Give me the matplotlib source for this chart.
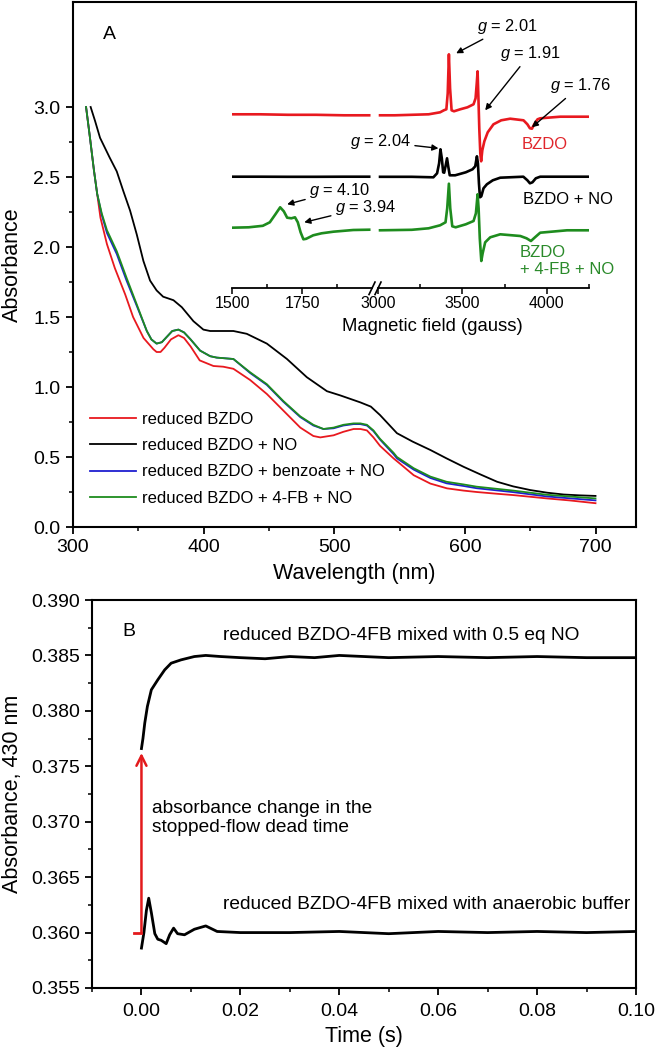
import matplotlib
matplotlib.use('Agg')
import matplotlib.pyplot as plt
import numpy as np
from matplotlib.ticker import MultipleLocator, FixedLocator

plt.rcParams['font.family'] = ['Liberation Sans', 'DejaVu Sans']
plt.rcParams['mathtext.fontset'] = 'custom'
plt.rcParams['mathtext.it'] = 'Liberation Sans:italic'
plt.rcParams['mathtext.rm'] = 'Liberation Sans'

RED = '#e8191f'
GREEN = '#1e8c1e'
BLUE = '#1f1fd0'

# ---------------- Panel A: UV-vis spectra ----------------
wl_red = [310, 313, 316, 318.5, 321, 326, 332, 340, 346, 354, 361.5, 364, 367, 370, 375,
          380.7, 385, 390, 397, 407.5, 415, 422.8, 435.6, 448.4, 461.2, 474, 484, 489.3,
          499.5, 507, 514.8, 520, 525, 530, 535, 545.4, 550.6, 560.8, 573.6, 586.3, 599,
          609, 625, 637, 663, 680, 700]
abs_red = [3.00, 2.78, 2.55, 2.38, 2.21, 2.02, 1.85, 1.66, 1.50, 1.35, 1.27, 1.25, 1.25,
           1.28, 1.34, 1.37, 1.35, 1.29, 1.19, 1.15, 1.145, 1.13, 1.05, 0.95, 0.83, 0.71,
           0.65, 0.64, 0.655, 0.68, 0.70, 0.70, 0.69, 0.64, 0.58, 0.49, 0.45, 0.37, 0.31,
           0.276, 0.26, 0.25, 0.237, 0.228, 0.204, 0.19, 0.17]

wl_black = [313.5, 316.9, 320.7, 328, 333.5, 338.5, 343.7, 348.8, 353.9, 359, 364, 369,
            376.9, 383.3, 392.2, 399.8, 405, 410, 422.8, 433, 448.4, 463.8, 479, 494.4,
            504.6, 520, 528, 535, 541, 548, 560, 573.6, 586, 599, 612, 624.7, 637, 650,
            663, 675.7, 688, 700]
abs_black = [3.00, 2.90, 2.78, 2.64, 2.54, 2.40, 2.26, 2.09, 1.90, 1.76, 1.69, 1.645,
             1.62, 1.57, 1.47, 1.41, 1.40, 1.40, 1.40, 1.38, 1.31, 1.20, 1.07, 0.97, 0.94,
             0.89, 0.86, 0.80, 0.74, 0.67, 0.61, 0.55, 0.49, 0.43, 0.375, 0.323, 0.29,
             0.264, 0.245, 0.232, 0.226, 0.222]

wl_green = [310, 313, 316, 318.5, 322, 326, 333.5, 341, 348.8, 356.5, 360, 364, 368, 372,
            376, 380.7, 385, 390, 397.3, 405, 410, 422.8, 435.6, 448.4, 461, 474, 484,
            491.7, 499.5, 507, 514.8, 520, 525, 530, 535, 545.4, 548, 560.8, 573.6, 586,
            599, 609, 637, 663, 700]
abs_green = [3.00, 2.78, 2.55, 2.38, 2.24, 2.12, 1.97, 1.78, 1.59, 1.40, 1.34, 1.31, 1.32,
             1.36, 1.40, 1.41, 1.39, 1.34, 1.26, 1.22, 1.21, 1.20, 1.105, 1.02, 0.90, 0.79,
             0.73, 0.70, 0.71, 0.73, 0.74, 0.74, 0.73, 0.69, 0.63, 0.53, 0.50, 0.42, 0.36,
             0.323, 0.304, 0.288, 0.26, 0.23, 0.204]
abs_blue = [3.00, 2.78, 2.55, 2.38, 2.23, 2.10, 1.95, 1.76, 1.58, 1.40, 1.34, 1.31, 1.32,
            1.36, 1.40, 1.41, 1.39, 1.34, 1.26, 1.22, 1.21, 1.20, 1.10, 1.015, 0.895, 0.785,
            0.725, 0.70, 0.705, 0.725, 0.735, 0.735, 0.725, 0.685, 0.625, 0.52, 0.49, 0.41,
            0.35, 0.312, 0.293, 0.277, 0.249, 0.218, 0.19]

legend_labels = ['reduced BZDO', 'reduced BZDO + NO',
                 'reduced BZDO + benzoate + NO', 'reduced BZDO + 4-FB + NO']

# ---------------- Inset: EPR spectra (arb. units) ----------------
field_left = [1500, 1600, 1700, 1800, 1900, 1990]
epr_red_left = [174, 174, 173.5, 173.5, 173, 173]
epr_black_left = [111.6, 111.6, 111.5, 111.5, 111.6, 111.6]

field_red_right = [3012, 3100, 3200, 3300, 3368, 3390, 3405, 3413, 3420, 3427, 3436, 3450,
                   3487, 3530, 3566, 3578, 3585, 3590, 3595, 3600, 3606, 3611, 3618, 3630,
                   3650, 3684, 3730, 3783, 3862, 3885, 3900, 3912, 3925, 3945, 3961, 4080,
                   4250]
epr_red_right = [173, 173, 173.5, 174, 176, 178, 179, 195, 234, 200, 178, 177, 179, 181,
                 184, 190, 205, 217, 190, 160, 135, 127, 138, 147, 156, 164, 168, 169.6,
                 168, 164, 160, 159.6, 164, 169, 170, 171.6, 171.6]

field_black_right = [3012, 3200, 3328, 3350, 3362, 3370, 3378, 3386, 3392, 3400, 3409,
                     3416, 3425, 3457, 3520, 3560, 3576, 3586, 3592, 3598, 3604, 3612,
                     3625, 3645, 3680, 3724, 3861, 3885, 3900, 3915, 3935, 3961, 4250]
epr_black_right = [111.5, 111.5, 111, 115, 125, 139, 130, 116, 115.6, 122, 130, 122, 113,
                   113, 116, 119, 122, 132, 125, 105, 91, 92, 100, 104, 108, 110.6, 111.6,
                   108, 105, 106, 110, 111.6, 111.6]

field_green_left = [1500, 1560, 1610, 1635, 1655, 1672, 1685, 1697, 1712, 1725, 1735, 1745,
                    1755, 1765, 1790, 1820, 1862, 1933, 1990]
epr_green_left = [60.6, 61, 62.5, 66, 74, 81, 77, 70.6, 70, 71, 66, 56, 49, 49.5, 53, 55,
                  56.6, 58.3, 58.6]
field_green_right = [3012, 3200, 3300, 3368, 3400, 3410, 3420, 3428, 3440, 3460, 3520,
                     3566, 3580, 3590, 3596, 3603, 3612, 3620, 3635, 3665, 3724, 3843,
                     3880, 3906, 3930, 3961, 4120, 4250]
epr_green_right = [58, 58.5, 60, 63, 66, 80, 104.6, 80, 62, 61, 64, 67.3, 75, 94, 80, 50,
                   27.3, 35, 46, 51, 54, 52.3, 50, 47.3, 51, 55.6, 58, 58]

# ---------------- Panel B: stopped-flow traces ----------------
t_no = [0.0, 0.0003, 0.00067, 0.0012, 0.002, 0.0033, 0.0047, 0.006, 0.008, 0.0107, 0.013,
        0.016, 0.02, 0.025, 0.03, 0.035, 0.04, 0.045, 0.05, 0.06, 0.07, 0.08, 0.09, 0.10]
a_no = [0.3766, 0.3775, 0.3789, 0.3804, 0.3819, 0.3828, 0.3837, 0.3843, 0.3846, 0.3849,
        0.3850, 0.3849, 0.3848, 0.3847, 0.3849, 0.3848, 0.3850, 0.3849, 0.3848, 0.3849,
        0.3848, 0.3849, 0.3848, 0.3848]
t_buf = [0.0, 0.0005, 0.001, 0.00147, 0.002, 0.0027, 0.0033, 0.004, 0.005, 0.0057, 0.0065,
         0.0073, 0.0087, 0.0107, 0.013, 0.0153, 0.02, 0.03, 0.04, 0.05, 0.06, 0.07, 0.08,
         0.09, 0.10]
a_buf = [0.3586, 0.3600, 0.3620, 0.3631, 0.3618, 0.3599, 0.3594, 0.3593, 0.3590, 0.3598,
         0.3604, 0.3599, 0.3598, 0.3603, 0.3606, 0.3601, 0.3600, 0.3600, 0.3601, 0.3599,
         0.3601, 0.3600, 0.3601, 0.3600, 0.3601]
a_start = 0.3600
a_jump = 0.3762

W, H = 655, 1050
fig = plt.figure(figsize=(W / 100, H / 100), dpi=100)


def frame(x0, y0, x1, y1):
    # pixel box (top-left origin) -> figure fractions
    return [x0 / W, 1 - y1 / H, (x1 - x0) / W, (y1 - y0) / H]


# ---- Panel A ----
ax = fig.add_axes(frame(73, 2, 636, 527))
ax.plot(wl_red, abs_red, color=RED, lw=1.3, label=legend_labels[0])
ax.plot(wl_black, abs_black, color='black', lw=1.3, label=legend_labels[1])
ax.plot(wl_green, abs_blue, color=BLUE, lw=1.3, label=legend_labels[2])
ax.plot(wl_green, abs_green, color=GREEN, lw=1.3, label=legend_labels[3])
ax.set_xlim(300, 731)
ax.set_ylim(0, 3.75)
ax.set_xticks([300, 400, 500, 600, 700])
ax.xaxis.set_minor_locator(MultipleLocator(50))
ax.set_yticks([0.0, 0.5, 1.0, 1.5, 2.0, 2.5, 3.0])
ax.yaxis.set_minor_locator(FixedLocator([0.25, 0.75, 1.25, 1.75, 2.25, 2.75]))
ax.tick_params(which='major', direction='out', length=5, width=1.3, labelsize=14, pad=4)
ax.tick_params(which='minor', direction='out', length=3, width=1.1)
for s in ax.spines.values():
    s.set_linewidth(1.5)
ax.set_xlabel('Wavelength (nm)', fontsize=15.5)
ax.set_ylabel('Absorbance', fontsize=15.5)
ax.xaxis.set_label_coords(0.5, -0.068)
ax.yaxis.set_label_coords(-0.089, 0.5)
ax.text(0.064, 0.939, 'A', transform=ax.transAxes, fontsize=14, ha='center', va='center')
ax.legend(loc='upper left', bbox_to_anchor=(0.030, 0.219), frameon=False, fontsize=12,
          handlelength=2.75, handletextpad=0.4, labelspacing=0.67, borderpad=0,
          borderaxespad=0)

# ---- Inset (broken field axis) ----
ins_l = fig.add_axes(frame(232, 28.3, 372, 288.3))
ins_r = fig.add_axes(frame(378, 28.3, 589, 288.3))
ins_l.plot(field_left, epr_red_left, color=RED, lw=1.9)
ins_l.plot(field_left, epr_black_left, color='black', lw=1.9)
ins_l.plot(field_green_left, epr_green_left, color=GREEN, lw=1.9)
ins_r.plot(field_red_right, epr_red_right, color=RED, lw=1.9)
ins_r.plot(field_black_right, epr_black_right, color='black', lw=1.9)
ins_r.plot(field_green_right, epr_green_right, color=GREEN, lw=1.9)
ins_l.set_xlim(1500, 2000)
ins_r.set_xlim(3000, 4250)
ins_l.set_xticks([1500, 1750])
ins_l.xaxis.set_minor_locator(FixedLocator([1625, 1875]))
ins_r.set_xticks([3000, 3500, 4000])
ins_r.xaxis.set_minor_locator(FixedLocator([3250, 3750, 4250]))
for a in (ins_l, ins_r):
    a.set_ylim(0, 260)
    a.patch.set_alpha(0)
    a.set_yticks([])
    for side in ('top', 'left', 'right'):
        a.spines[side].set_visible(False)
    a.spines['bottom'].set_linewidth(1.3)
    a.tick_params(which='major', direction='out', length=4, width=1.1, labelsize=11.5, pad=1.5)
    a.tick_params(which='minor', direction='in', length=3, width=1.1)
# break marks "//"
for a, xf in ((ins_l, 1.0), (ins_r, 0.0)):
    dx = 3.0 / (a.get_position().width * W)
    a.plot([xf - dx, xf + dx], [-0.024, 0.024], transform=a.transAxes, color='black',
           lw=1.2, clip_on=False)
ax.text(0.639, 0.3815, 'Magnetic field (gauss)', transform=ax.transAxes, fontsize=13.3,
        ha='center', va='center')

arrow_kw = dict(arrowstyle='-|>', color='black', lw=1.0, mutation_scale=9, shrinkA=1, shrinkB=0)
ins_r.annotate('$g$ = 2.01', xy=(3463, 235), xytext=(3586, 262), fontsize=11.8,
               ha='left', va='center', arrowprops=arrow_kw, annotation_clip=False)
ins_r.annotate('$g$ = 1.91', xy=(3635, 178), xytext=(3724, 235), fontsize=11.8,
               ha='left', va='center', arrowprops=arrow_kw, annotation_clip=False)
ins_r.annotate('$g$ = 1.76', xy=(3912, 161), xytext=(4021, 203), fontsize=11.8,
               ha='left', va='center', arrowprops=arrow_kw, annotation_clip=False)
ins_r.annotate('$g$ = 2.04', xy=(3358, 140), xytext=(3194, 146.6), fontsize=11.8,
               ha='right', va='center', arrowprops=arrow_kw, annotation_clip=False)
ins_l.annotate('$g$ = 4.10', xy=(1697, 84), xytext=(1776, 98), fontsize=11.8,
               ha='left', va='center', arrowprops=arrow_kw, annotation_clip=False)
ins_l.annotate('$g$ = 3.94', xy=(1758, 66), xytext=(1868, 81), fontsize=11.8,
               ha='left', va='center', arrowprops=arrow_kw, annotation_clip=False)
ins_r.text(3853, 144, 'BZDO', color='#e0262c', fontsize=12, ha='left', va='center')
ins_r.text(3859, 89, 'BZDO + NO', color='black', fontsize=12, ha='left', va='center')
ins_r.text(3840, 27, 'BZDO\n+ 4-FB + NO', color='#2a8a2a', fontsize=12, ha='left',
           va='center', linespacing=1.15)

# ---- Panel B ----
bx = fig.add_axes(frame(92, 600, 636, 988))
bx.plot(t_no, a_no, color='black', lw=2.0)
bx.plot(t_buf, a_buf, color='black', lw=2.0)
bx.plot([-0.0015, 0.0], [a_start, a_start], color='#e31a1c', lw=2.0)
bx.annotate('', xy=(0.0, a_jump), xytext=(0.0, a_start),
            arrowprops=dict(arrowstyle='->', color='#e31a1c', lw=1.8, mutation_scale=18,
                            shrinkA=0, shrinkB=0))
bx.set_xlim(-0.01, 0.10)
bx.set_ylim(0.355, 0.390)
bx.set_xticks([0.00, 0.02, 0.04, 0.06, 0.08, 0.10])
bx.set_xticklabels(['0.00', '0.02', '0.04', '0.06', '0.08', '0.10'])
bx.xaxis.set_minor_locator(MultipleLocator(0.01))
bx.set_yticks([0.355, 0.360, 0.365, 0.370, 0.375, 0.380, 0.385, 0.390])
bx.set_yticklabels(['0.355', '0.360', '0.365', '0.370', '0.375', '0.380', '0.385', '0.390'])
bx.yaxis.set_minor_locator(MultipleLocator(0.0025))
bx.tick_params(which='major', direction='out', length=5, width=1.3, labelsize=14)
bx.tick_params(axis='x', which='major', pad=6)
bx.tick_params(which='minor', direction='out', length=3, width=1.1)
for s in bx.spines.values():
    s.set_linewidth(1.5)
bx.set_xlabel('Time (s)', fontsize=15.5)
bx.set_ylabel('Absorbance, 430 nm', fontsize=15.5)
bx.xaxis.set_label_coords(0.5, -0.098)
bx.yaxis.set_label_coords(-0.127, 0.5)
bx.text(-0.0026, 0.3872, 'B', fontsize=14, ha='center', va='center')
bx.text(0.0164, 0.3868, 'reduced BZDO-4FB mixed with 0.5 eq NO', fontsize=13.8,
        ha='left', va='center')
bx.text(0.0164, 0.3625, 'reduced BZDO-4FB mixed with anaerobic buffer', fontsize=13.8,
        ha='left', va='center')
bx.text(0.0022, 0.3703, 'absorbance change in the\nstopped-flow dead time', fontsize=13.8,
        ha='left', va='center', linespacing=1.15)

fig.savefig('out.png', dpi=100)
